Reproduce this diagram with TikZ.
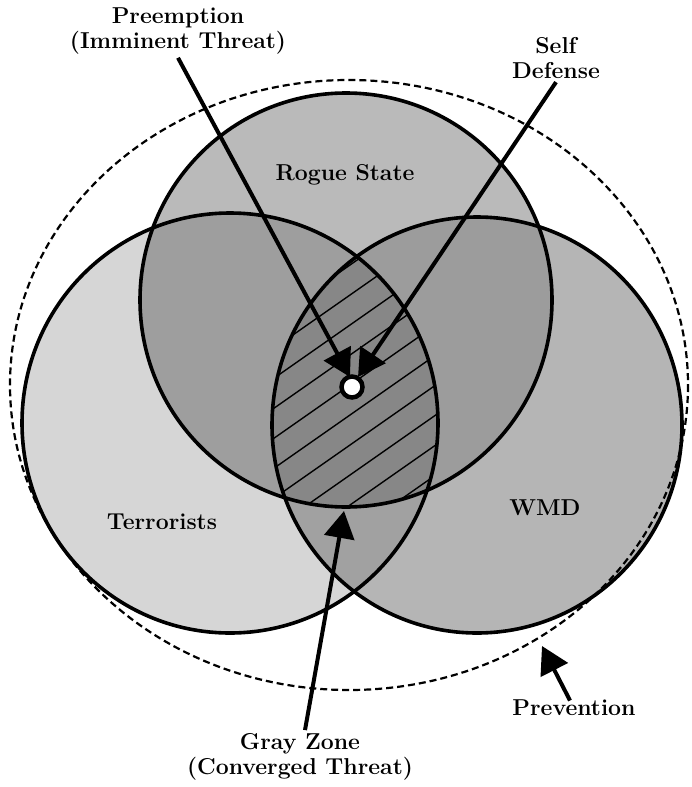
\documentclass[tikz,border=0pt]{standalone}
\usetikzlibrary{arrows.meta}
\begin{document}
\begin{tikzpicture}[x=1pt, y=-1pt,
  lbl/.style={font=\fontsize{23}{25}\selectfont\bfseries, align=center},
  venn/.style={line width=3.6pt},
  pointer/.style={line width=4pt, -{Triangle[length=27pt,width=30pt]}}]
\useasboundingbox (0,0) rectangle (692,787);
\def\terror{(230,423) ellipse [x radius=208, y radius=210]}
\def\rogue{(346,300) ellipse [x radius=206, y radius=207]}
\def\wmd{(477,425) ellipse [x radius=205, y radius=208]}
\fill[black!16] \terror;
\fill[black!27] \rogue;
\fill[black!29] \wmd;
\begin{scope}
  \clip \terror;
  \fill[black!38] \rogue;
  \fill[black!37] \wmd;
\end{scope}
\begin{scope}
  \clip \rogue;
  \fill[black!39] \wmd;
\end{scope}
\begin{scope}
  \clip \terror; \clip \rogue; \clip \wmd;
  \fill[black!47] (250,200) rectangle (460,620);
  \foreach \c in {420,450,...,880}
    \draw[line width=1.4pt] (250,\c-175) -- (460,\c-322);
\end{scope}
\draw[venn] \terror;
\draw[venn] \rogue;
\draw[venn] \wmd;
\draw[line width=2.2pt, dash pattern=on 7pt off 4pt] (349,385) ellipse [x radius=339, y radius=305];

\node[lbl] (roguelbl) at (345,175) {Rogue State};
\node[lbl] (terrorlbl) at (162,522) {Terrorists};
\node[lbl] (wmdlbl) at (545,508) {WMD};
\node[lbl] (preempt) at (178,31) {Preemption\\(Imminent Threat)};
\node[lbl] (selfdef) at (556,58) {Self\\Defense};
\node[lbl] (grayzone) at (300,757) {Gray Zone\\(Converged Threat)};
\node[lbl] (prevent) at (574,708) {Prevention};

\node[circle, draw, fill=white, line width=4.5pt, minimum size=21pt, inner sep=0pt] (core) at (352,387) {};
\coordinate (pretip) at (350,377);
\coordinate (selftip) at (358,377);
\coordinate (graytip) at (344,511);
\coordinate (preventtip) at (542,646);

\draw[pointer] (preempt.south) -- (pretip);
\draw[pointer] (selfdef.south) -- (selftip);
\draw[pointer] ([xshift=5pt]grayzone.north) -- (graytip);
\draw[pointer] ([xshift=-4pt,yshift=-4pt]prevent.north) -- (preventtip);
\end{tikzpicture}
\end{document}
